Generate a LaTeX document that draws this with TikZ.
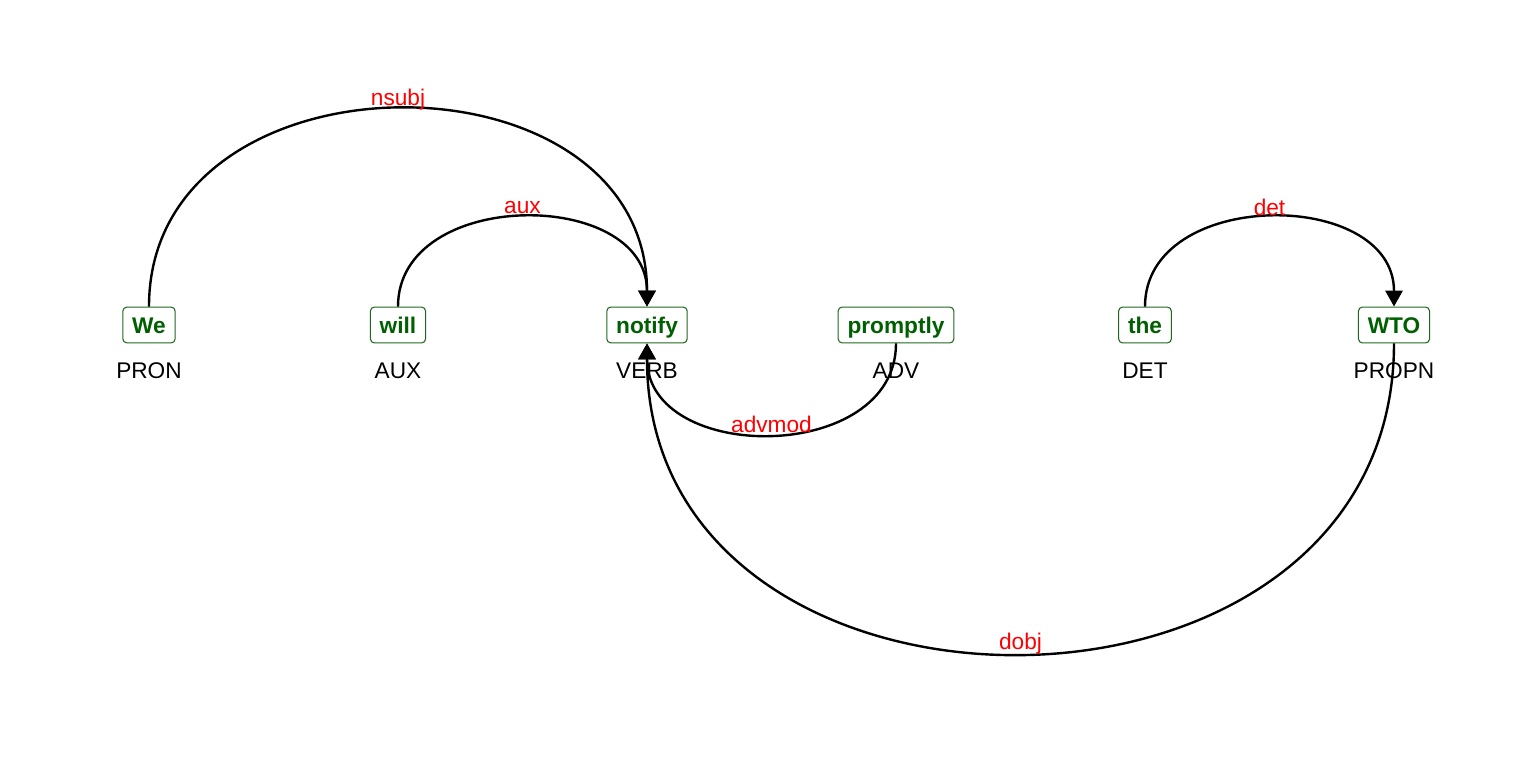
\documentclass[tikz,border=0pt]{standalone}
\usepackage{fontspec}
\setmainfont{Liberation Sans}
\usetikzlibrary{arrows.meta}
\definecolor{wordgreen}{RGB}{0,95,0}
\definecolor{boxgreen}{RGB}{30,105,30}

\begin{document}
\begin{tikzpicture}[x=0.75pt,y=0.75pt,
  word/.style={draw=boxgreen,line width=0.8pt,rounded corners=3pt,text=wordgreen,
    font=\fontsize{17}{20}\selectfont\bfseries,inner xsep=7pt,inner ysep=5.5pt,
    text height=14.3pt,text depth=1.6pt},
  tag/.style={font=\fontsize{17}{20}\selectfont},
  dep/.style={line width=1.8pt,-{Triangle[length=12pt,width=13pt]}},
  rel/.style={text=red,font=\fontsize{17}{20}\selectfont,yshift=7.5pt}]

\useasboundingbox (0,0) rectangle (1536,768);

\foreach \n/\w/\p/\x in {we/We/PRON/149,will/will/AUX/398,notify/notify/VERB/647,promptly/promptly/ADV/896,the/the/DET/1145,wto/WTO/PROPN/1394}
{
\node[word] (\n) at (\x,443) {\w};
\node[tag] (\n-tag) at (\x,397) {\p};
}

\draw[dep] (we.north) .. controls +(0,263) and +(0,263) .. (notify.north) node[rel,pos=0.5] {nsubj};
\draw[dep] (will.north) .. controls +(0,119) and +(0,119) .. (notify.north) node[rel,pos=0.5] {aux};
\draw[dep] (the.north) .. controls +(0,119) and +(0,119) .. (wto.north) node[rel,pos=0.5] {det};
\draw[dep] (promptly.south) .. controls +(0,-121) and +(0,-121) .. (notify.south) node[rel,pos=0.5] {advmod};
\draw[dep] (wto.south) .. controls +(0,-413) and +(0,-413) .. (notify.south) node[rel,pos=0.5] {dobj};
\end{tikzpicture}
\end{document}
